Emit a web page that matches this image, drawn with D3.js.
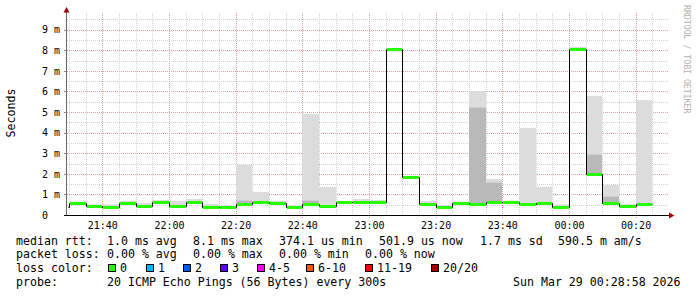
<!DOCTYPE html>
<meta charset="utf-8">
<style type="text/css">
body { margin: 0; background: #fff; }
svg text { font-family: "DejaVu Sans Mono", monospace; fill: #000; }
.grid-minor { stroke: #cfcfcf; stroke-dasharray: 1,1; fill: none; }
.grid-major { stroke: #e3a0a0; stroke-dasharray: 1,1; fill: none; }
.tick { font-size: 10px; }
.legend { font-size: 11.6px; }
.median { fill: none; stroke: #000; stroke-width: 1; }
</style>
<body>
<div id="chart"></div>
<script src="https://d3js.org/d3.v7.min.js"></script>
<script>
// 5-minute slots (start time of each step)
var slots = ["21:25","21:30","21:35","21:40","21:45","21:50","21:55","22:00","22:05","22:10",
             "22:15","22:20","22:25","22:30","22:35","22:40","22:45","22:50","22:55","23:00",
             "23:05","23:10","23:15","23:20","23:25","23:30","23:35","23:40","23:45","23:50",
             "23:55","00:00","00:05","00:10","00:15","00:20"];

// median rtt in ms
var median = [0.39,0.57,0.44,0.40,0.60,0.45,0.62,0.44,0.63,0.40,
              0.37,0.52,0.63,0.58,0.40,0.55,0.44,0.63,0.63,0.63,
              8.04,1.83,0.55,0.39,0.57,0.53,0.62,0.62,0.55,0.57,
              0.37,8.07,1.99,0.58,0.42,0.52];

// smoke (spread of the 20 pings) in ms
var smokeLo = [0.35,0.55,0.42,0.32,0.58,0.42,0.58,0.42,0.58,0.38,
               0.33,0.50,0.60,0.50,0.38,0.52,0.35,0.60,0.60,0.60,
               7.93,1.80,0.52,0.36,0.54,0.50,0.58,0.58,0.52,0.54,
               0.34,8.00,1.95,0.55,0.39,0.50];
var smokeHi = [0.45,0.66,0.52,0.52,0.68,0.58,0.73,0.69,0.78,0.53,
               0.45,2.44,1.12,0.68,0.45,4.90,1.36,0.68,0.78,0.73,
               8.10,1.90,0.68,0.49,0.65,6.02,1.75,0.70,4.22,1.37,
               0.52,8.17,5.78,1.46,0.53,5.58];
// denser part of the smoke (0 = none)
var smokeMid = [0,0,0,0,0,0,0,0,0,0,
                0,0.70,0,0,0,0.70,0,0,0,0,
                0,0,0,0,0,5.21,1.57,0,0,0,
                0,0,2.93,0.89,0,0];

var yTicks = [0,1,2,3,4,5,6,7,8,9];
var yTickLabels = ["0","1 m","2 m","3 m","4 m","5 m","6 m","7 m","8 m","9 m"];
var xTickLabels = ["21:40","22:00","22:20","22:40","23:00","23:20","23:40","00:00","00:20"];

var lossLabels = ["0","1","2","3","4-5","6-10","11-19","20/20"];
var lossColors = ["#26ff00","#00b8ff","#0059ff","#5e00ff","#ff00ff","#ff5500","#ff0000","#a00000"];

function parseHM(s) {
    var p = s.split(":"), h = +p[0], m = +p[1];
    var d = new Date(2026, 2, 28, h, m, 0);
    if (h < 12) d = d3.timeDay.offset(d, 1);
    return d;
}

var width = 697, height = 297;
var svg = d3.select("#chart").append("svg")
    .attr("width", width)
    .attr("height", height);

var x0 = new Date(2026, 2, 28, 21, 29, 25);
var x1 = new Date(2026, 2, 29, 0, 29, 25);
var xScale = d3.scaleTime().domain([x0, x1]).range([67, 667]);
var yScale = d3.scaleLinear().domain([0, 10]).range([215, 9]);

var plotTop = 13, plotBottom = 215, plotLeft = 67, plotRight = 668;
function cx(v) { return Math.round(v) + 0.5; }

// grid
var grid = svg.append("g");
d3.range(0.5, 9.6, 0.5).forEach(function(v) {
    var major = Math.abs(v - Math.round(v)) < 1e-6;
    grid.append("line")
        .attr("class", major ? "grid-major" : "grid-minor")
        .attr("x1", plotLeft).attr("x2", plotRight)
        .attr("y1", cx(yScale(v))).attr("y2", cx(yScale(v)));
});
var minorTimes = d3.timeMinute.every(5).range(x0, x1);
minorTimes.forEach(function(t) {
    var major = t.getMinutes() % 20 === 0;
    grid.append("line")
        .attr("class", major ? "grid-major" : "grid-minor")
        .attr("x1", cx(xScale(t))).attr("x2", cx(xScale(t)))
        .attr("y1", plotTop).attr("y2", plotBottom + (major ? 3 : 2));
});

// smoke
var steps = slots.map(function(s, i) {
    var t = parseHM(s);
    return {t0: t, t1: d3.timeMinute.offset(t, 5), med: median[i],
            lo: smokeLo[i], hi: smokeHi[i], mid: smokeMid[i]};
});

function sx(t) { return Math.max(plotLeft + 1, Math.round(xScale(t))); }

var smoke = svg.append("g");
smoke.selectAll("rect.light")
    .data(steps)
  .enter().append("rect")
    .attr("class", "light")
    .attr("x", function(d) { return sx(d.t0); })
    .attr("width", function(d) { return Math.round(xScale(d.t1)) - sx(d.t0); })
    .attr("y", function(d) { return yScale(d.hi); })
    .attr("height", function(d) { return yScale(d.lo) - yScale(d.hi); })
    .attr("fill", "#dcdcdc");
smoke.selectAll("rect.mid")
    .data(steps.filter(function(d) { return d.mid > 0; }))
  .enter().append("rect")
    .attr("class", "mid")
    .attr("x", function(d) { return sx(d.t0); })
    .attr("width", function(d) { return Math.round(xScale(d.t1)) - sx(d.t0); })
    .attr("y", function(d) { return yScale(d.mid); })
    .attr("height", function(d) { return yScale(d.lo) - yScale(d.mid); })
    .attr("fill", "#b9b9b9");

// median step line
var linePts = steps.map(function(d) { return [sx(d.t0), d.med]; });
linePts.push([Math.round(xScale(steps[steps.length - 1].t1)), steps[steps.length - 1].med]);
var line = d3.line()
    .x(function(d) { return d[0] + 0.5; })
    .y(function(d) { return Math.round(yScale(d[1])) + 0.5; })
    .curve(d3.curveStepAfter);
svg.append("path")
    .datum(linePts)
    .attr("class", "median")
    .attr("d", line);

// median colored by loss (all 0 loss)
svg.append("g").selectAll("rect")
    .data(steps)
  .enter().append("rect")
    .attr("x", function(d) { return sx(d.t0) + 1; })
    .attr("width", function(d) { return Math.round(xScale(d.t1)) - sx(d.t0) - 1; })
    .attr("y", function(d) { return Math.round(yScale(d.med)) - 1; })
    .attr("height", 3)
    .attr("fill", lossColors[0]);

// axes
svg.append("line")
    .attr("x1", 66.5).attr("x2", 66.5).attr("y1", 12).attr("y2", 216)
    .attr("stroke", "#666");
svg.append("path")
    .attr("d", "M63.5,12.5 L66.5,7 L69.5,12.5 Z")
    .attr("fill", "#a00000");
svg.append("line")
    .attr("x1", 64).attr("x2", 670).attr("y1", 215.5).attr("y2", 215.5)
    .attr("stroke", "#000");
svg.append("path")
    .attr("d", "M669,212.5 L674.5,215.5 L669,218.5 Z")
    .attr("fill", "#a00000");

yTicks.forEach(function(v) {
    if (v > 0) {
        svg.append("line")
            .attr("x1", 64).attr("x2", 67)
            .attr("y1", cx(yScale(v))).attr("y2", cx(yScale(v)))
            .attr("stroke", "#888");
    }
});

svg.append("g").selectAll("text")
    .data(yTicks)
  .enter().append("text")
    .attr("class", "tick")
    .attr("x", 42)
    .attr("y", function(d) { return yScale(d) + 3.8; })
    .style("white-space", "pre")
    .text(function(d, i) { return yTickLabels[i]; });

svg.append("g").selectAll("text")
    .data(xTickLabels)
  .enter().append("text")
    .attr("class", "tick")
    .attr("x", function(d) { return xScale(parseHM(d)) + 0.5; })
    .attr("y", 228.5)
    .attr("text-anchor", "middle")
    .text(function(d) { return d; });

svg.append("text")
    .attr("class", "legend")
    .attr("transform", "translate(14.5,113) rotate(-90)")
    .attr("text-anchor", "middle")
    .text("Seconds");

svg.append("text")
    .attr("transform", "translate(684,5) rotate(90)")
    .style("font-size", "8.2px")
    .style("fill", "#b0b0b0")
    .text("RRDTOOL / TOBI OETIKER");

// legend
var legend = svg.append("g").attr("class", "legend");
function put(x, y, s) {
    legend.append("text").attr("x", x).attr("y", y).style("white-space", "pre").text(s);
}
put(16, 244.5, "median rtt:");
put(107, 244.5, "1.0 ms avg");
put(193, 244.5, "8.1 ms max");
put(279, 244.5, "374.1 us min");
put(379, 244.5, "501.9 us now");
put(480, 244.5, "1.7 ms sd");
put(558, 244.5, "590.5 m am/s");

put(16, 258.4, "packet loss:");
put(107, 258.4, "0.00 % avg");
put(193, 258.4, "0.00 % max");
put(279, 258.4, "0.00 % min");
put(365, 258.4, "0.00 % now");

put(16, 272.3, "loss color:");
var boxX = [108, 145.5, 182.5, 219.5, 256.5, 306, 365, 430.5];
lossLabels.forEach(function(l, i) {
    legend.append("rect")
        .attr("x", Math.round(boxX[i]) + 0.5).attr("y", 264.5)
        .attr("width", 7).attr("height", 7)
        .attr("fill", lossColors[i])
        .attr("stroke", "#000");
    put(Math.round(boxX[i]) + 12, 272.3, l);
});

put(16, 286.2, "probe:");
put(107, 286.2, "20 ICMP Echo Pings (56 Bytes) every 300s");
put(513, 286.2, "Sun Mar 29 00:28:58 2026");
</script>
</body>
